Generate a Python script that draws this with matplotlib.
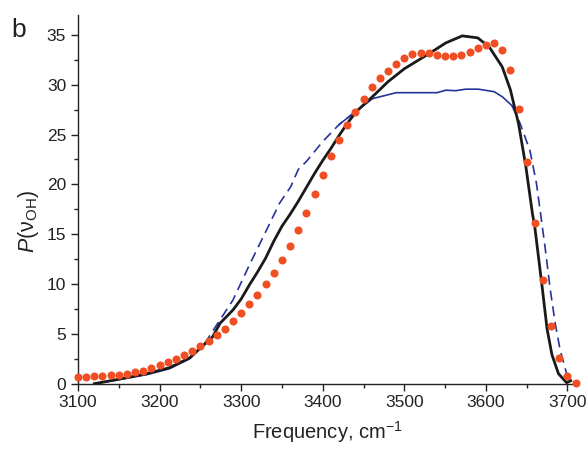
import numpy as np
import matplotlib
matplotlib.use('Agg')
import matplotlib.pyplot as plt
from matplotlib.ticker import MultipleLocator

plt.rcParams['font.family'] = ['Liberation Sans', 'DejaVu Sans']
plt.rcParams['mathtext.fontset'] = 'custom'
plt.rcParams['mathtext.rm'] = 'Liberation Sans'
plt.rcParams['mathtext.it'] = 'Liberation Sans:italic'

# experiment (dots), every 10 cm-1
freq_exp = np.arange(3100, 3711, 10)
p_exp = [0.64, 0.7, 0.77, 0.8, 0.85, 0.92, 1.0, 1.15, 1.3, 1.6,
         1.85, 2.15, 2.5, 2.9, 3.3, 3.8, 4.3, 4.9, 5.5, 6.3,
         7.06, 7.96, 8.9, 10.0, 11.1, 12.4, 13.8, 15.4, 17.1, 19.0,
         20.9, 22.8, 24.5, 26.0, 27.3, 28.6, 29.8, 30.7, 31.4, 32.1,
         32.7, 33.07, 33.2, 33.17, 33.0, 32.9, 32.9, 33.0, 33.3, 33.7,
         34.0, 34.15, 33.5, 31.5, 27.6, 22.2, 16.1, 10.4, 5.8, 2.6,
         0.74, 0.1]

# black solid curve
freq_blk = [3120, 3150, 3184, 3212, 3237, 3249, 3265, 3274, 3290, 3300,
            3310, 3320, 3330, 3340, 3350, 3360, 3370, 3380, 3390, 3400,
            3410, 3420, 3430, 3441, 3461, 3480, 3500, 3530, 3551, 3571,
            3590, 3604, 3620, 3630, 3640, 3649, 3657, 3660, 3669, 3675,
            3681, 3689, 3699, 3704]
p_blk = [0.0, 0.45, 1.0, 1.6, 2.6, 3.5, 4.7, 6.05, 7.4, 8.5,
         9.9, 11.2, 12.6, 14.3, 15.8, 17.0, 18.3, 19.7, 21.1, 22.4,
         23.6, 24.9, 26.1, 27.3, 28.8, 30.3, 31.6, 33.1, 34.2, 34.9,
         34.7, 33.8, 31.8, 29.5, 26.1, 21.8, 17.1, 15.7, 9.7, 5.5,
         2.9, 1.0, 0.1, 0.3]

# blue curve (solid / dashed pieces)
freq_blu = [3120, 3150, 3184, 3212, 3237, 3255, 3270, 3290, 3310, 3331,
            3347, 3361, 3370, 3380, 3400, 3420, 3445, 3461, 3490, 3514,
            3540, 3551, 3563, 3575, 3591, 3610, 3620, 3632, 3642, 3654,
            3662, 3667, 3673, 3679, 3685, 3691, 3699, 3707]
p_blu = [0.0, 0.4, 0.9, 1.5, 2.5, 4.0, 5.9, 8.4, 11.9, 15.4,
         18.1, 19.8, 21.5, 22.3, 24.3, 26.0, 27.6, 28.6, 29.2, 29.2,
         29.2, 29.45, 29.4, 29.55, 29.55, 29.3, 28.8, 27.9, 26.1, 23.4,
         20.1, 17.1, 13.4, 9.4, 6.05, 3.4, 1.0, 0.2]

fig = plt.figure(figsize=(5.88, 4.53), dpi=100)
ax = fig.add_axes([0.1327, 0.153, 0.849, 0.814])

orange = '#f04e23'
blue = '#26339a'
dark = '#222222'

fb = np.array(freq_blu)
pb = np.array(p_blu)
m1 = fb <= 3255
m2 = (fb >= 3255) & (fb <= 3445)
m3 = (fb >= 3420) & (fb <= 3632)
m4 = fb >= 3632
ax.plot(fb[m1], pb[m1], color=blue, lw=1.2, zorder=2)
ax.plot(fb[m2], pb[m2], color=blue, lw=1.2, dashes=(6, 3.5), zorder=2)
ax.plot(fb[m3], pb[m3], color=blue, lw=1.2, zorder=2)
ax.plot(fb[m4], pb[m4], color=blue, lw=1.2, dashes=(6, 3.5), zorder=2)

ax.plot(freq_blk, p_blk, color='#1a1a1a', lw=2.0, zorder=3)
ax.plot(freq_exp, p_exp, 'o', color=orange, ms=5.8, mec='none', zorder=4,
        clip_on=False)

ax.set_xlim(3100, 3712)
ax.set_ylim(0, 37)
ax.spines['top'].set_visible(False)
ax.spines['right'].set_visible(False)
ax.xaxis.set_major_locator(MultipleLocator(100))
ax.xaxis.set_minor_locator(MultipleLocator(50))
ax.yaxis.set_major_locator(MultipleLocator(5))
ax.yaxis.set_minor_locator(MultipleLocator(2.5))
ax.tick_params(which='major', direction='out', length=5, width=1, labelsize=12.5,
               colors=dark)
ax.tick_params(which='minor', direction='out', length=3, width=1, colors=dark)
for s in ['left', 'bottom']:
    ax.spines[s].set_linewidth(1)
    ax.spines[s].set_color(dark)

ax.set_xlabel(r'Frequency, cm$^{\mathrm{-1}}$', fontsize=14.5, color=dark)
ax.xaxis.set_label_coords(0.5, -0.097)
ax.set_ylabel(r'$P$(ν$_{\mathrm{OH}}$)', fontsize=15.5, color=dark)
ax.yaxis.set_label_coords(-0.074, 0.44)
fig.text(0.02, 0.918, 'b', fontsize=19, color=dark)

plt.savefig('out.png', dpi=100)
